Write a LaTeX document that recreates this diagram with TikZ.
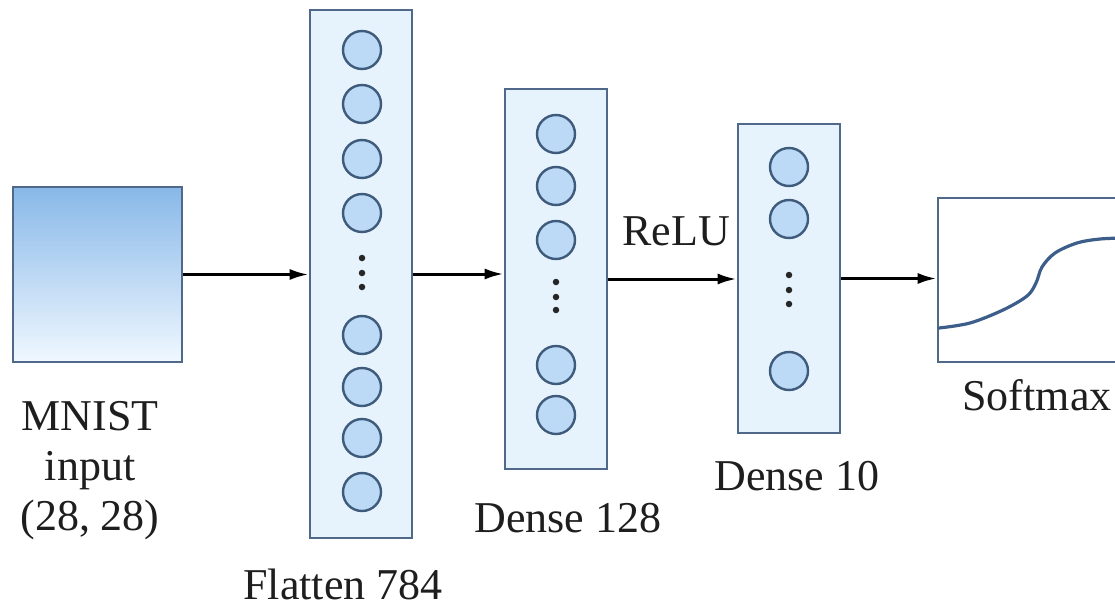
\documentclass[tikz,border=0pt]{standalone}
\usepackage{fontspec}
\IfFontExistsTF{LiberationSerif-Regular.ttf}
  {\newfontfamily\labelfont{LiberationSerif-Regular.ttf}}
  {\newfontfamily\labelfont{Latin Modern Roman}}
\usetikzlibrary{arrows.meta}

\definecolor{edgeblue}{HTML}{50698A}
\definecolor{layerfill}{HTML}{E6F2FC}
\definecolor{unitfill}{HTML}{BCDAF6}
\definecolor{unitedge}{HTML}{3F5B7C}
\definecolor{inputtop}{HTML}{88B8E8}
\definecolor{inputbottom}{HTML}{F0F8FF}
\definecolor{curveblue}{HTML}{3D5D8A}
\definecolor{inktext}{HTML}{1E1E1E}

\begin{document}
\begin{tikzpicture}[x=1pt,y=-1pt,
  layer/.style={draw=edgeblue, fill=layerfill, line width=2.6pt, inner sep=0pt, minimum width=102pt},
  unit/.style={circle, draw=unitedge, fill=unitfill, line width=2.4pt, minimum size=38pt, inner sep=0pt},
  dotmark/.style={circle, fill=black!85, minimum size=6.5pt, inner sep=0pt},
  flow/.style={line width=3pt, -{Latex[length=19pt,width=11pt]}},
  caption/.style={font=\labelfont\fontsize{44}{50}\selectfont, text=inktext, inner sep=0pt, anchor=base}
]
\useasboundingbox (0,0) rectangle (1115,608);
\clip (0,0) rectangle (1115,608);

% input image
\node[draw=edgeblue, line width=2.6pt, inner sep=0pt,
      minimum width=169pt, minimum height=175pt,
      top color=inputtop, bottom color=inputbottom] (mnist) at (97.5,274.5) {};

% flatten layer
\node[layer, minimum height=528pt] (flat) at (361,274) {};
\foreach \y [count=\i] in {50,104,159,213,335,387,438,492}
  \node[unit] (f\i) at (362,\y) {};
\foreach \y [count=\i] in {258,273,287}
  \node[dotmark] (fd\i) at (362,\y) {};

% dense 128 layer
\node[layer, minimum height=380pt] (hid) at (556,279) {};
\foreach \y [count=\i] in {134,186,240,365,415}
  \node[unit] (h\i) at (556,\y) {};
\foreach \y [count=\i] in {282,297,310}
  \node[dotmark] (hd\i) at (556,\y) {};

% dense 10 layer
\node[layer, minimum height=309pt] (out) at (789,278.5) {};
\foreach \y [count=\i] in {167,219,371}
  \node[unit] (o\i) at (789,\y) {};
\foreach \y [count=\i] in {275,290,304}
  \node[dotmark] (od\i) at (789,\y) {};

% softmax panel
\node[draw=edgeblue, fill=white, line width=2.6pt, inner sep=0pt,
      minimum width=200pt, minimum height=164pt] (soft) at (1038,280) {};
\draw[curveblue, line width=3.2pt, line cap=round]
  plot[smooth, tension=0.55] coordinates
  {(939,328) (970,323) (1003,310) (1027,296) (1036,283) (1042,267)
   (1055,253) (1077,243) (1100,239) (1125,238)};

% connections
\draw[flow] (mnist.east) -- (mnist.east -| flat.west);
\draw[flow] (flat.east) -- (flat.east -| hid.west);
\draw[flow] (hid.east) -- (hid.east -| out.west);
\draw[flow] (out.east) -- (out.east -| soft.west);

% labels (base anchor of a multi-line node sits on its last line)
\node[caption, align=center] (lbl-in) at (90,530) {MNIST\\input\\(28, 28)};
\node[caption] (lbl-flat) at (343,599) {Flatten 784};
\node[caption] (lbl-hid) at (568,532) {Dense 128};
\node[caption] (lbl-out) at (797,490) {Dense 10};
\node[caption] (lbl-soft) at (1037,410) {Softmax};
\node[caption] (lbl-relu) at (676,245) {ReLU};
\end{tikzpicture}
\end{document}
